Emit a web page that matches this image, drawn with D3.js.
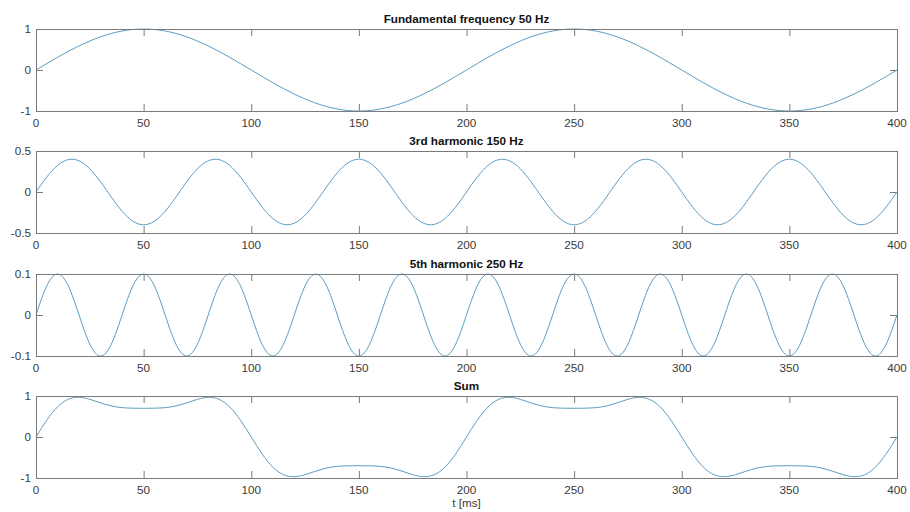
<!DOCTYPE html>
<html>
<head>
<meta charset="utf-8">
<script src="https://cdn.jsdelivr.net/npm/d3@7"></script>
<style>
  body { margin: 0; background: #fff; }
  svg { display: block; font-family: "Liberation Sans", Arial, sans-serif; }
</style>
</head>
<body>
<svg id="chart" width="910" height="512"></svg>
<script>
// sample times, ms
let tMs = [0,5,10,15,20,25,30,35,40,45,50,55,60,65,70,75,80,85,90,95,100,
  105,110,115,120,125,130,135,140,145,150,155,160,165,170,175,180,185,190,195,200,
  205,210,215,220,225,230,235,240,245,250,255,260,265,270,275,280,285,290,295,300,
  305,310,315,320,325,330,335,340,345,350,355,360,365,370,375,380,385,390,395,400];

// fundamental 50 Hz
let fundamental = [0,.156,.309,.454,.588,.707,.809,.891,.951,.988,1,.988,.951,.891,.809,.707,.588,.454,.309,.156,0,
  -.156,-.309,-.454,-.588,-.707,-.809,-.891,-.951,-.988,-1,-.988,-.951,-.891,-.809,-.707,-.588,-.454,-.309,-.156,0,
  .156,.309,.454,.588,.707,.809,.891,.951,.988,1,.988,.951,.891,.809,.707,.588,.454,.309,.156,0,
  -.156,-.309,-.454,-.588,-.707,-.809,-.891,-.951,-.988,-1,-.988,-.951,-.891,-.809,-.707,-.588,-.454,-.309,-.156,0];

// 3rd harmonic 150 Hz
let harmonic3 = [0,.182,.324,.395,.380,.283,.124,-.062,-.235,-.356,-.4,-.356,-.235,-.062,.124,.283,.380,.395,.324,.182,0,
  -.182,-.324,-.395,-.380,-.283,-.124,.062,.235,.356,.4,.356,.235,.062,-.124,-.283,-.380,-.395,-.324,-.182,0,
  .182,.324,.395,.380,.283,.124,-.062,-.235,-.356,-.4,-.356,-.235,-.062,.124,.283,.380,.395,.324,.182,0,
  -.182,-.324,-.395,-.380,-.283,-.124,.062,.235,.356,.4,.356,.235,.062,-.124,-.283,-.380,-.395,-.324,-.182,0];

// 5th harmonic 250 Hz
let harmonic5 = [0,.071,.1,.071,0,-.071,-.1,-.071,0,.071,.1,.071,0,-.071,-.1,-.071,0,.071,.1,.071,0,
  -.071,-.1,-.071,0,.071,.1,.071,0,-.071,-.1,-.071,0,.071,.1,.071,0,-.071,-.1,-.071,0,
  .071,.1,.071,0,-.071,-.1,-.071,0,.071,.1,.071,0,-.071,-.1,-.071,0,.071,.1,.071,0,
  -.071,-.1,-.071,0,.071,.1,.071,0,-.071,-.1,-.071,0,.071,.1,.071,0,-.071,-.1,-.071,0];

// sum
let sumWave = [0,.409,.733,.920,.968,.919,.833,.758,.716,.703,.7,.703,.716,.758,.833,.919,.968,.920,.733,.409,0,
  -.409,-.733,-.920,-.968,-.919,-.833,-.758,-.716,-.703,-.7,-.703,-.716,-.758,-.833,-.919,-.968,-.920,-.733,-.409,0,
  .409,.733,.920,.968,.919,.833,.758,.716,.703,.7,.703,.716,.758,.833,.919,.968,.920,.733,.409,0,
  -.409,-.733,-.920,-.968,-.919,-.833,-.758,-.716,-.703,-.7,-.703,-.716,-.758,-.833,-.919,-.968,-.920,-.733,-.409,0];

let titles = ['Fundamental frequency 50 Hz', '3rd harmonic 150 Hz', '5th harmonic 250 Hz', 'Sum'];
let series = [fundamental, harmonic3, harmonic5, sumWave];
let yLimits = [[-1, 1], [-0.5, 0.5], [-0.1, 0.1], [-1, 1]];
let yTicks = [[-1, 0, 1], [-0.5, 0, 0.5], [-0.1, 0, 0.1], [-1, 0, 1]];
let xTicks = [0, 50, 100, 150, 200, 250, 300, 350, 400];
let xLabel = 't [ms]';

let left = 36, right = 897;
let tops = [29, 151, 274, 396];
let plotH = 82;
let tickLen = 7;
let fontSize = 11.7;
let axisColor = '#7a7a7a';
let labelColor = '#3a3a3a';
let lineColor = '#5e9dc2';

let svg = d3.select('#chart');

let x = d3.scaleLinear().domain([0, 400]).range([left, right]);

series.forEach((values, i) => {
    let top = tops[i];
    let y = d3.scaleLinear().domain(yLimits[i]).range([top + plotH, top]);

    let g = svg.append('g');

    // ticks inside the box, on all four sides
    g.selectAll('.xt-b').data(xTicks).enter().append('line')
        .attr('x1', d => x(d) + 0.5).attr('x2', d => x(d) + 0.5)
        .attr('y1', top + plotH).attr('y2', top + plotH - tickLen)
        .attr('stroke', axisColor);
    g.selectAll('.xt-t').data(xTicks).enter().append('line')
        .attr('x1', d => x(d) + 0.5).attr('x2', d => x(d) + 0.5)
        .attr('y1', top).attr('y2', top + tickLen)
        .attr('stroke', axisColor);
    g.selectAll('.yt-l').data(yTicks[i]).enter().append('line')
        .attr('x1', left).attr('x2', left + tickLen)
        .attr('y1', d => y(d) + 0.5).attr('y2', d => y(d) + 0.5)
        .attr('stroke', axisColor);
    g.selectAll('.yt-r').data(yTicks[i]).enter().append('line')
        .attr('x1', right).attr('x2', right - tickLen)
        .attr('y1', d => y(d) + 0.5).attr('y2', d => y(d) + 0.5)
        .attr('stroke', axisColor);

    // curve
    let line = d3.line()
        .x((d, j) => x(tMs[j]))
        .y(d => y(d))
        .curve(d3.curveNatural);

    g.append('path')
        .datum(values)
        .attr('fill', 'none')
        .attr('stroke', lineColor)
        .attr('stroke-width', 1)
        .attr('d', line);

    // box
    g.append('rect')
        .attr('x', left + 0.5).attr('y', top + 0.5)
        .attr('width', right - left).attr('height', plotH)
        .attr('fill', 'none')
        .attr('stroke', axisColor);

    // labels
    g.selectAll('.xl').data(xTicks).enter().append('text')
        .attr('x', d => x(d))
        .attr('y', top + plotH + 16)
        .attr('text-anchor', 'middle')
        .attr('font-size', fontSize)
        .attr('fill', labelColor)
        .text(d => d);

    g.selectAll('.yl').data(yTicks[i]).enter().append('text')
        .attr('x', left - 5)
        .attr('y', d => y(d) + 4)
        .attr('text-anchor', 'end')
        .attr('font-size', fontSize)
        .attr('fill', labelColor)
        .text(d => d < 0 ? '-' + Math.abs(d) : d);

    g.append('text')
        .attr('x', (left + right) / 2)
        .attr('y', top - 6)
        .attr('text-anchor', 'middle')
        .attr('font-size', fontSize)
        .attr('font-weight', 'bold')
        .attr('fill', '#111')
        .text(titles[i]);
});

svg.append('text')
    .attr('x', (left + right) / 2)
    .attr('y', 507)
    .attr('text-anchor', 'middle')
    .attr('font-size', fontSize)
    .attr('fill', labelColor)
    .text(xLabel);
</script>
</body>
</html>
